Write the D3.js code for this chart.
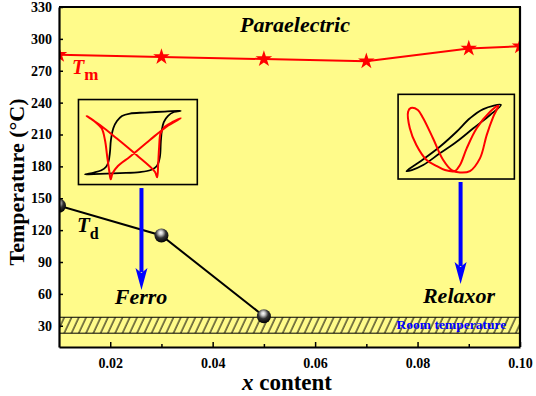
<!DOCTYPE html>
<html><head><meta charset="utf-8">
<script src="https://cdn.jsdelivr.net/npm/d3@7"></script>
<style>body{margin:0;background:#fff}svg{display:block}
svg text{font-family:"Liberation Serif","Times New Roman",Tinos,"DejaVu Serif",serif;}</style>
</head><body><svg id="c" width="536" height="396"></svg>
<script>
// ---- data ----
const tmX = [0.01, 0.03, 0.05, 0.07, 0.09, 0.10];
const tmValues = [285, 283, 281, 279, 291, 293];
const tdX = [0.01, 0.03, 0.05];
const tdValues = [143, 115, 39];
const xTickValues = [0.02, 0.04, 0.06, 0.08, 0.10];
const xMinorTicks = [0.03, 0.05, 0.07, 0.09];
const yTickValues = [30, 60, 90, 120, 150, 180, 210, 240, 270, 300, 330];
const roomBand = [23, 38];
// inset loops, normalized [u,v] within inset box (u: left->right, v: top->bottom)
const ferroBlackLoop = [[0.861,0.132],[0.727,0.141],[0.559,0.153],[0.433,0.165],[0.366,0.194],[0.324,0.253],[0.294,0.335],[0.273,0.476],[0.265,0.618],[0.252,0.735],[0.231,0.794],[0.189,0.835],[0.130,0.859],[0.055,0.880],[0.181,0.874],[0.349,0.865],[0.517,0.853],[0.609,0.829],[0.660,0.782],[0.685,0.676],[0.693,0.5],[0.702,0.359],[0.718,0.265],[0.752,0.194],[0.803,0.147]];
const ferroRedLoop = [[0.069,0.194],[0.139,0.261],[0.195,0.339],[0.223,0.476],[0.242,0.673],[0.259,0.841],[0.271,0.939],[0.287,0.868],[0.332,0.782],[0.433,0.673],[0.601,0.476],[0.741,0.320],[0.861,0.221],[0.797,0.261],[0.727,0.320],[0.691,0.398],[0.679,0.555],[0.671,0.751],[0.662,0.915],[0.643,0.849],[0.489,0.653],[0.321,0.456],[0.181,0.300]];
const relaxorBlackLoop = [[0.072,0.906],[0.187,0.796],[0.359,0.619],[0.503,0.442],[0.618,0.283],[0.733,0.174],[0.885,0.126],[0.791,0.244],[0.647,0.401],[0.503,0.560],[0.359,0.697],[0.216,0.835],[0.118,0.894]];
const relaxorRedLoop = [[0.862,0.134],[0.791,0.205],[0.676,0.401],[0.590,0.638],[0.532,0.835],[0.489,0.906],[0.403,0.894],[0.316,0.835],[0.245,0.776],[0.157,0.599],[0.101,0.401],[0.086,0.207],[0.109,0.162],[0.170,0.185],[0.216,0.283],[0.300,0.519],[0.388,0.776],[0.460,0.894],[0.532,0.923],[0.618,0.906],[0.704,0.756],[0.762,0.481],[0.819,0.264]];

// ---- layout ----
const svg = d3.select("#c");
const L = 59, R = 520, T = 7, B = 347;
const x = d3.scaleLinear().domain([0.01, 0.10]).range([L, R]);
const y = d3.scaleLinear().domain([10, 330]).range([B, T]);
const yellow = "#fffb8a";

const defs = svg.append("defs");
defs.append("clipPath").attr("id","plotclip").append("rect")
  .attr("x",L).attr("y",T).attr("width",R-L).attr("height",B-T);
const pat = defs.append("pattern").attr("id","hatch").attr("patternUnits","userSpaceOnUse")
  .attr("width",6.6).attr("height",20).attr("patternTransform","rotate(25)");
pat.append("rect").attr("width",6.6).attr("height",20).attr("fill",yellow);
pat.append("line").attr("x1",1).attr("y1",0).attr("x2",1).attr("y2",20)
  .attr("stroke","#000").attr("stroke-width",1);
const grad = defs.append("radialGradient").attr("id","ball")
  .attr("cx",0.45).attr("cy",0.35).attr("r",0.65).attr("fx",0.45).attr("fy",0.3);
grad.append("stop").attr("offset","0%").attr("stop-color","#ffffff");
grad.append("stop").attr("offset","22%").attr("stop-color","#c8c8c8");
grad.append("stop").attr("offset","55%").attr("stop-color","#333");
grad.append("stop").attr("offset","100%").attr("stop-color","#000");

// background
svg.append("rect").attr("x",L).attr("y",T).attr("width",R-L).attr("height",B-T).attr("fill",yellow);

const plot = svg.append("g").attr("clip-path","url(#plotclip)");

// room temperature band
plot.append("rect").attr("x",L).attr("width",R-L)
  .attr("y",y(roomBand[1])).attr("height",y(roomBand[0])-y(roomBand[1]))
  .attr("fill","url(#hatch)");
plot.append("line").attr("x1",L).attr("x2",R).attr("y1",y(roomBand[1])).attr("y2",y(roomBand[1])).attr("stroke","#000").attr("stroke-width",1);
plot.append("line").attr("x1",L).attr("x2",R).attr("y1",y(roomBand[0])).attr("y2",y(roomBand[0])).attr("stroke","#000").attr("stroke-width",1);
svg.append("text").attr("x",x(0.0866)).attr("y",y(27)).attr("text-anchor","middle")
  .attr("font-weight","bold").attr("font-size",13.5)
  .attr("fill","#0000ff").text("Room temperature");

// Tm line
const tmData = tmX.map((d,i)=>[d,tmValues[i]]);
plot.append("path").datum(tmData)
  .attr("d", d3.line().x(d=>x(d[0])).y(d=>y(d[1])))
  .attr("fill","none").attr("stroke","#ff0000").attr("stroke-width",2);
plot.selectAll(".star").data(tmData).join("path")
  .attr("transform",d=>`translate(${x(d[0])},${y(d[1])})`)
  .attr("d", d3.symbol(d3.symbolStar).size(85)).attr("fill","#ff0000");

// Td line
const tdData = tdX.map((d,i)=>[d,tdValues[i]]);
plot.append("path").datum(tdData)
  .attr("d", d3.line().x(d=>x(d[0])).y(d=>y(d[1])))
  .attr("fill","none").attr("stroke","#000").attr("stroke-width",2);
plot.selectAll(".ball").data(tdData).join("circle")
  .attr("cx",d=>x(d[0])).attr("cy",d=>y(d[1])).attr("r",7)
  .attr("fill","url(#ball)");

// insets
function inset(box, black, red){
  const sx = d3.scaleLinear().domain([0,1]).range([x(box[0]), x(box[1])]);
  const sy = d3.scaleLinear().domain([0,1]).range([y(box[2]), y(box[3])]);
  svg.append("rect").attr("x",sx(0)).attr("y",sy(0)).attr("width",sx(1)-sx(0)).attr("height",sy(1)-sy(0))
    .attr("fill",yellow).attr("stroke","#000").attr("stroke-width",1.6);
  const ln = d3.line().x(d=>sx(d[0])).y(d=>sy(d[1])).curve(d3.curveCatmullRomClosed.alpha(0.5));
  svg.append("path").attr("d",ln(black)).attr("fill","none").attr("stroke","#000").attr("stroke-width",1.8);
  svg.append("path").attr("d",ln(red)).attr("fill","none").attr("stroke","#ff0000").attr("stroke-width",2);
}
inset([0.0138,0.0370,242.9,162.9], ferroBlackLoop, ferroRedLoop);
inset([0.0762,0.0989,247.8,168.1], relaxorBlackLoop, relaxorRedLoop);

// arrows
function arrow(xv, y0, y1){
  const px = x(xv), a = y(y0), b = y(y1);
  svg.append("line").attr("x1",px).attr("x2",px).attr("y1",a).attr("y2",b-18)
    .attr("stroke","#0000ff").attr("stroke-width",4);
  svg.append("path").attr("d",`M${px-6},${b-22}L${px},${b}L${px+6},${b-22}L${px},${b-17}Z`).attr("fill","#0000ff");
}
arrow(0.0261, 159.6, 63.6);
arrow(0.0884, 165.3, 69.3);

// labels
const lbl = (t, xv, yv, size, opts={}) => svg.append("text").attr("x",xv).attr("y",yv)
  .attr("font-size",size).attr("font-weight","bold")
  .attr("font-style",opts.italic?"italic":"normal").attr("fill",opts.fill||"#000")
  .attr("text-anchor",opts.anchor||"start").text(t);
lbl("Paraelectric", 295, 32, 22, {italic:true, anchor:"middle"});
lbl("Ferro", 141, 304, 22, {italic:true, anchor:"middle"});
lbl("Relaxor", 459, 303, 22, {italic:true, anchor:"middle"});
const tm = svg.append("text").attr("x",72).attr("y",74).attr("font-weight","bold").attr("fill","#ff0000");
tm.append("tspan").attr("font-style","italic").attr("font-size",20).text("T");
tm.append("tspan").attr("font-size",17).attr("dy",6).text("m");
const td = svg.append("text").attr("x",77).attr("y",232).attr("font-weight","bold").attr("fill","#000");
td.append("tspan").attr("font-style","italic").attr("font-size",21).text("T");
td.append("tspan").attr("font-size",16).attr("dy",7).text("d");

// axes
const yAxis = d3.axisLeft(y).tickValues(yTickValues).tickSizeInner(-4).tickSizeOuter(0).tickPadding(7);
const gy = svg.append("g").attr("transform",`translate(${L},0)`).call(yAxis);
const xAxis = d3.axisBottom(x).tickValues(xTickValues).tickFormat(d3.format(".2f")).tickSizeInner(-5).tickSizeOuter(0).tickPadding(11);
const gx = svg.append("g").attr("transform",`translate(0,${B})`).call(xAxis);
const xMinorAxis = d3.axisBottom(x).tickValues(xMinorTicks).tickFormat("").tickSizeInner(-3).tickSizeOuter(0);
const gxm = svg.append("g").attr("transform",`translate(0,${B})`).call(xMinorAxis);
gxm.select(".domain").remove();
[gx,gy,gxm].forEach(g=>{
  g.attr("font-family",null).attr("font-size",null);
  g.selectAll(".tick line").attr("stroke","#000").attr("stroke-width",1.5);
  g.selectAll(".tick text").attr("font-size",14).attr("font-weight","bold").attr("fill","#000");
  g.select(".domain").attr("stroke","#000").attr("stroke-width",2.2);
});
// frame top and right
svg.append("line").attr("x1",L).attr("x2",R+1).attr("y1",T).attr("y2",T).attr("stroke","#000").attr("stroke-width",2.2);
svg.append("line").attr("x1",R).attr("x2",R).attr("y1",T).attr("y2",B).attr("stroke","#000").attr("stroke-width",2.2);

// axis titles
const xt = svg.append("text").attr("x",287).attr("y",390).attr("text-anchor","middle")
  .attr("font-size",23).attr("font-weight","bold");
xt.append("tspan").attr("font-style","italic").text("x");
xt.append("tspan").text(" content");
svg.append("text").attr("transform","translate(24,182) rotate(-90)").attr("text-anchor","middle")
  .attr("font-size",22).attr("font-weight","bold").text("Temperature (°C)");
</script></body></html>
